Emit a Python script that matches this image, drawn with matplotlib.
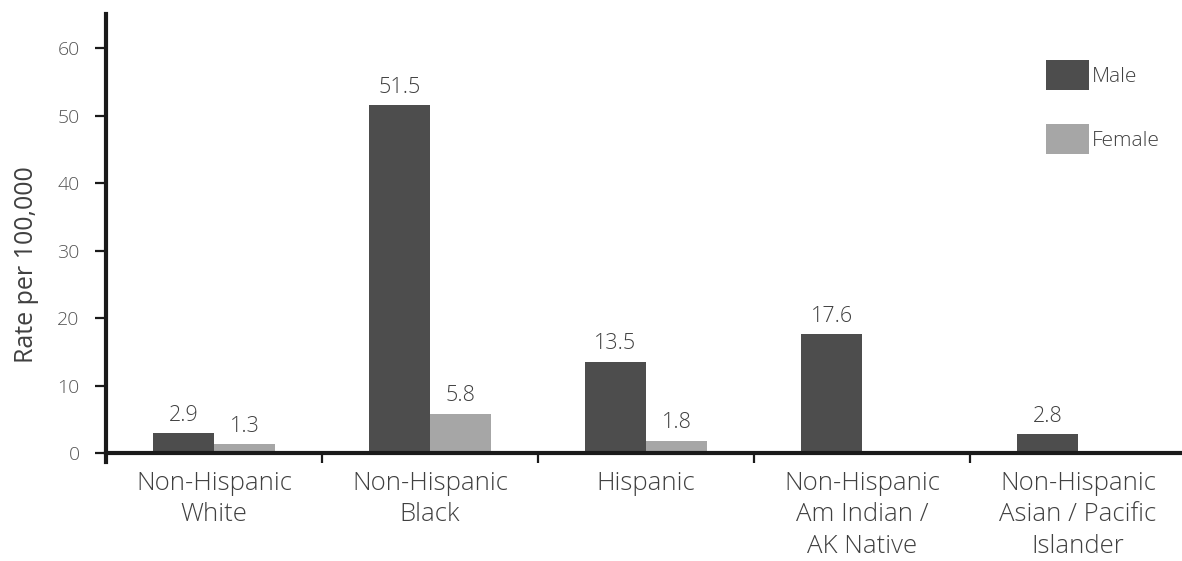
import numpy as np
import matplotlib
matplotlib.use("Agg")
import matplotlib.pyplot as plt

plt.rcParams['font.family'] = ['Open Sans', 'DejaVu Sans']
plt.rcParams['font.weight'] = 'light'

categories = ["Non-Hispanic\nWhite", "Non-Hispanic\nBlack", "Hispanic",
              "Non-Hispanic\nAm Indian /\nAK Native",
              "Non-Hispanic\nAsian / Pacific\nIslander"]
male = [2.9, 51.5, 13.5, 17.6, 2.8]
female = [1.3, 5.8, 1.8, np.nan, np.nan]
yticks = [0, 10, 20, 30, 40, 50, 60]

male_color = "#4d4d4d"
female_color = "#a6a6a6"
text_color = "#404040"
axis_color = "#1a1a1a"

W, H = 1182, 561
fig = plt.figure(figsize=(W / 100, H / 100), dpi=100)
ax = fig.add_axes([106 / W, (H - 462) / H, (W - 106) / W, (462 - 14) / H])

x = np.arange(len(categories))
bw = 0.283
off = 0.141
ax.bar(x - off, male, bw, color=male_color, label="Male", zorder=2)
ax.bar(x + off, female, bw, color=female_color, label="Female", zorder=2)

def value_label(xc, v):
    ax.annotate(f"{v:.1f}", (xc, v), xytext=(0, 9), textcoords="offset points",
                ha="center", va="baseline", fontsize=15.5, color=text_color)

for xi, v in zip(x, male):
    value_label(xi - off, v)
for xi, v in zip(x, female):
    if not np.isnan(v):
        value_label(xi + off, v)

ax.set_xlim(-0.5, -0.5 + (W - 106) / 216)
ax.set_ylim(-1.33, 65.04)

for s in ["top", "right"]:
    ax.spines[s].set_visible(False)
for s in ["left", "bottom"]:
    ax.spines[s].set_linewidth(3.0)
    ax.spines[s].set_color(axis_color)
ax.spines["bottom"].set_position(("data", 0))

ax.set_yticks(yticks)
ax.set_yticklabels([str(t) for t in yticks], fontsize=14, color="#555555")
ax.tick_params(axis="y", direction="out", length=8, width=1.6, color=axis_color, pad=11)

ax.set_xticks(x)
ax.set_xticklabels(categories, fontsize=18.5, color=text_color, linespacing=1.33)
ax.tick_params(axis="x", which="major", length=0, pad=13)
ax.set_xticks(np.arange(len(categories) - 1) + 0.5, minor=True)
ax.tick_params(axis="x", which="minor", direction="out", length=7, width=1.6,
               color=axis_color)

ax.set_ylabel("Rate per 100,000", fontsize=18, color=text_color)
ax.yaxis.set_label_coords(-0.062, 0.44)

leg = ax.legend(loc="upper left", bbox_to_anchor=(1046 / W, (H - 60) / H),
                bbox_transform=fig.transFigure, frameon=False, fontsize=15,
                handlelength=2.05, handleheight=1.85, labelspacing=1.63,
                handletextpad=0.15, borderaxespad=0.0, borderpad=0.0)
for t in leg.get_texts():
    t.set_color(text_color)

fig.savefig("out.png", dpi=100)
